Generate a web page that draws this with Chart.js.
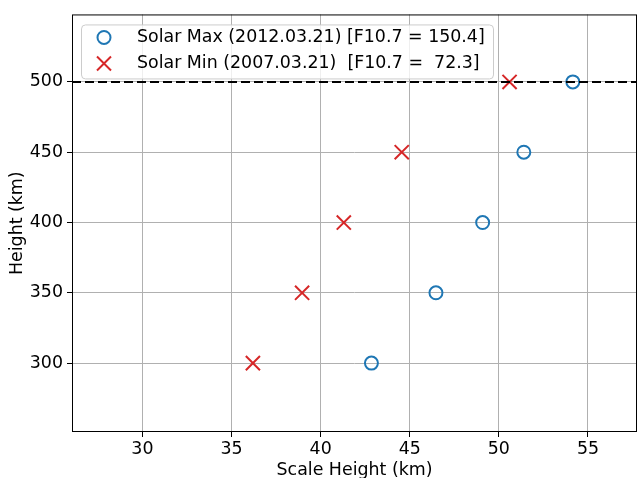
<!DOCTYPE html>
<html>
<head>
<meta charset="utf-8">
<script src="https://cdn.jsdelivr.net/npm/chart.js@4.4.1/dist/chart.umd.min.js"></script>
<style>
    html, body { margin: 0; padding: 0; background: #fff; }
    #wrap { width: 638px; height: 478px; position: relative; }
</style>
</head>
<body>
<div id="wrap"><canvas id="chart"></canvas></div>
<script>
// Scale height vs altitude, solar max / solar min
const HEIGHTS = [300, 350, 400, 450, 500];
const SCALE_MAX = [42.85, 46.47, 49.09, 51.4, 54.15];
const SCALE_MIN = [36.2, 38.96, 41.3, 44.55, 50.6];
const LABEL_MAX = 'Solar Max (2012.03.21) [F10.7 = 150.4]';
const LABEL_MIN = 'Solar Min (2007.03.21)  [F10.7 =  72.3]';
const X_TICKS = [30, 35, 40, 45, 50, 55];
const Y_TICKS = [300, 350, 400, 450, 500];
const REF_HEIGHT = 500;

const FONT = "'DejaVu Sans', sans-serif";
const FS = 17.4;
const BLUE = '#1f77b4';
const RED = '#d62728';

const toPoints = (xs) => xs.map((x, i) => ({ x, y: HEIGHTS[i] }));

// Dashed reference line, frame and in-plot legend
const overlayPlugin = {
    id: 'overlay',
    afterDatasetsDraw(chart) {
        const { ctx, chartArea: a, scales } = chart;
        const y = scales.y.getPixelForValue(REF_HEIGHT);
        ctx.save();
        ctx.strokeStyle = '#000';
        ctx.lineWidth = 2;
        ctx.setLineDash([9, 4]);
        ctx.beginPath();
        ctx.moveTo(a.left, y);
        ctx.lineTo(a.right, y);
        ctx.stroke();
        ctx.restore();
    },
    afterDraw(chart) {
        const { ctx, chartArea: a } = chart;
        ctx.save();
        // frame
        ctx.strokeStyle = '#000';
        ctx.lineWidth = 1;
        ctx.strokeRect(a.left + 0.5, a.top + 0.5, a.right - a.left - 1, a.bottom - a.top - 1);

        // legend box
        const bx = a.left + 9, by = a.top + 10, bw = 412, bh = 54;
        ctx.fillStyle = 'rgba(255,255,255,0.8)';
        ctx.strokeStyle = '#cccccc';
        ctx.lineWidth = 1;
        ctx.beginPath();
        ctx.roundRect(bx + 0.5, by + 0.5, bw, bh, 4);
        ctx.fill();
        ctx.stroke();

        const mx = bx + 23, tx = bx + 56;
        const rows = [by + 13, by + 39];
        chart.data.datasets.forEach((ds, i) => {
            const cy = rows[i];
            ctx.strokeStyle = ds.borderColor;
            ctx.lineWidth = 2;
            ctx.beginPath();
            if (ds.pointStyle === 'circle') {
                ctx.arc(mx, cy, 6.5, 0, Math.PI * 2);
            } else {
                ctx.moveTo(mx - 7, cy - 7); ctx.lineTo(mx + 7, cy + 7);
                ctx.moveTo(mx - 7, cy + 7); ctx.lineTo(mx + 7, cy - 7);
            }
            ctx.stroke();
            ctx.fillStyle = '#000';
            ctx.font = `${FS}px ${FONT}`;
            ctx.textBaseline = 'middle';
            ctx.fillText(ds.label, tx, cy);
        });
        ctx.restore();
    }
};

const setTicks = (list) => (scale) => { scale.ticks = list.map(v => ({ value: v })); };

new Chart(document.getElementById('chart'), {
    type: 'scatter',
    data: {
        datasets: [
            {
                label: LABEL_MAX,
                data: toPoints(SCALE_MAX),
                pointStyle: 'circle',
                pointRadius: 6.5,
                pointBorderWidth: 2,
                borderColor: BLUE,
                backgroundColor: 'rgba(0,0,0,0)'
            },
            {
                label: LABEL_MIN,
                data: toPoints(SCALE_MIN),
                pointStyle: 'crossRot',
                pointRadius: 10,
                pointBorderWidth: 2,
                borderColor: RED,
                backgroundColor: RED
            }
        ]
    },
    options: {
        responsive: true,
        maintainAspectRatio: false,
        animation: false,
        layout: { autoPadding: false, padding: { top: 13, right: 1, left: 0, bottom: 0 } },
        plugins: {
            legend: { display: false },
            tooltip: { enabled: false }
        },
        scales: {
            x: {
                type: 'linear',
                min: 26.05,
                max: 57.75,
                afterBuildTicks: setTicks(X_TICKS),
                afterFit: (s) => { s.height = 46; s.paddingLeft = 0; s.paddingRight = 0; },
                grid: { color: '#b0b0b0', lineWidth: 1, tickColor: '#000', tickLength: 5 },
                border: { display: false },
                ticks: { color: '#000', font: { family: FONT, size: FS }, padding: 2, maxRotation: 0 },
                title: { display: true, text: 'Scale Height (km)', color: '#000', font: { family: FONT, size: FS, lineHeight: 0.9 }, padding: { top: 2, bottom: 0 } }
            },
            y: {
                type: 'linear',
                min: 251,
                max: 548,
                afterBuildTicks: setTicks(Y_TICKS),
                afterFit: (s) => { s.width = 72; },
                grid: { color: '#b0b0b0', lineWidth: 1, tickColor: '#000', tickLength: 5 },
                border: { display: false },
                ticks: { color: '#000', font: { family: FONT, size: FS }, padding: 4 },
                title: { display: true, text: 'Height (km)', color: '#000', font: { family: FONT, size: FS }, padding: { top: 7, bottom: 0 } }
            }
        }
    },
    plugins: [overlayPlugin]
});
</script>
</body>
</html>
